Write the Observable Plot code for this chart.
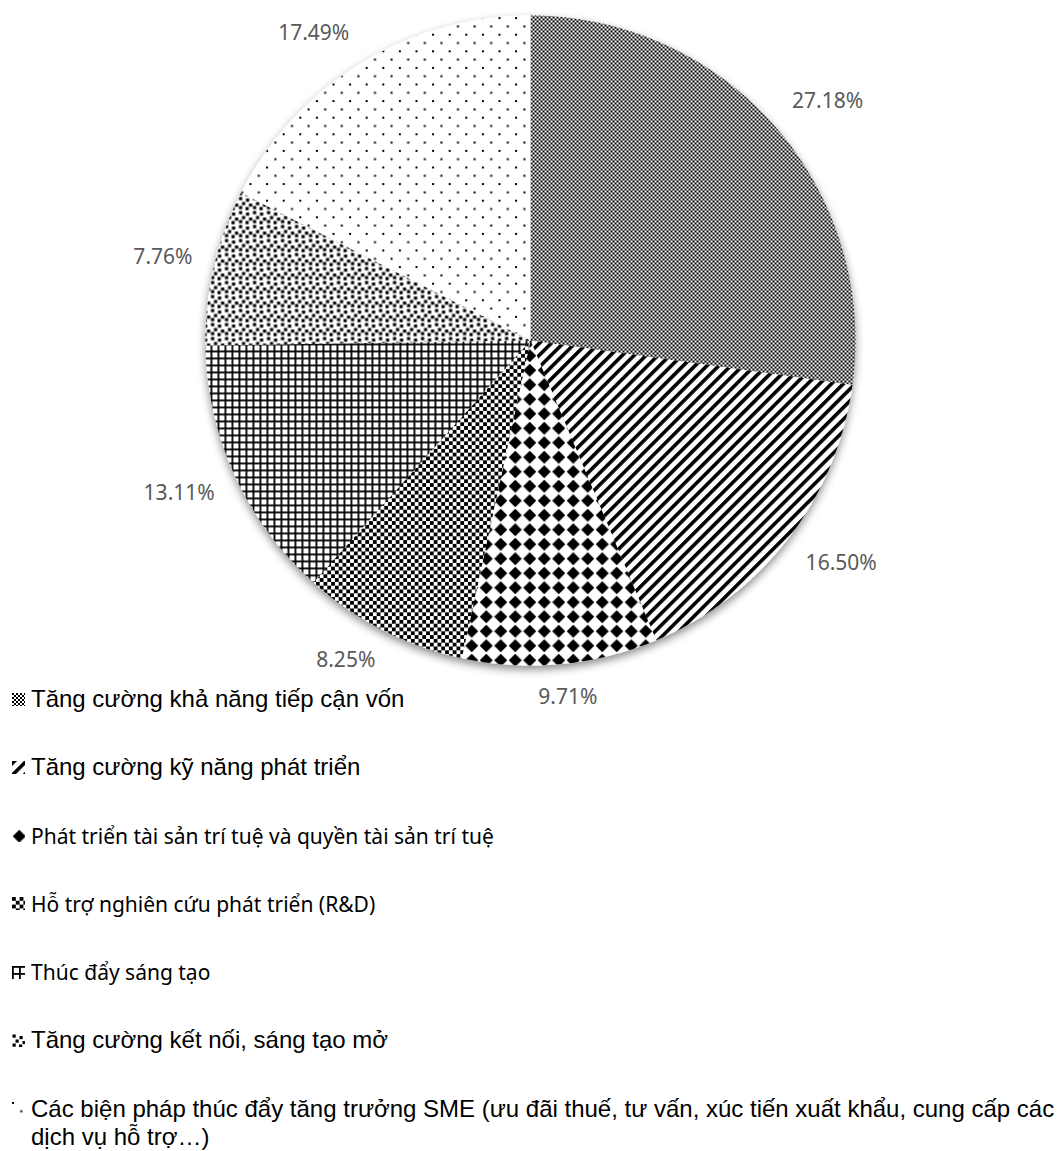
<!DOCTYPE html>
<html><head><meta charset="utf-8">
<script src="https://cdn.jsdelivr.net/npm/d3@7"></script>
<script src="https://cdn.jsdelivr.net/npm/@observablehq/plot@0.6"></script>
<style>
html,body{margin:0;padding:0;background:#fff;width:1057px;height:1151px;overflow:hidden;}
#wrap{position:relative;width:1057px;height:1151px;}
#chart svg{display:block;overflow:visible;}
#legend{position:absolute;left:12px;top:685px;}
.row{height:68.3px;display:flex;align-items:flex-start;}
.row svg{flex:none;margin-top:7.5px;margin-right:6px;}
.txt{line-height:28px;color:#000;white-space:pre;}
.arial{font-family:"Liberation Sans",Arial,sans-serif;font-size:24px;}
.calibri{font-family:"Noto Sans",sans-serif;font-size:21px;}
</style></head>
<body>
<svg width="0" height="0" style="position:absolute">
<defs>
  <pattern id="p-fine" width="4" height="4" patternUnits="userSpaceOnUse">
    <rect width="4" height="4" fill="#fff"/><rect width="2" height="2" fill="#000"/><rect x="2" y="2" width="2" height="2" fill="#000"/>
  </pattern>
  <pattern id="p-stripe" width="8.4" height="8.4" patternUnits="userSpaceOnUse" patternTransform="rotate(45)">
    <rect width="8.4" height="8.4" fill="#fff"/><rect width="3.6" height="8.4" fill="#000"/>
  </pattern>
  <pattern id="p-diamond" width="14.5" height="14.5" patternUnits="userSpaceOnUse">
    <rect width="14.5" height="14.5" fill="#fff"/><polygon points="7.25,0.7 13.8,7.25 7.25,13.8 0.7,7.25" fill="#000"/>
  </pattern>
  <pattern id="p-check" width="7.6" height="7.6" patternUnits="userSpaceOnUse">
    <rect width="7.6" height="7.6" fill="#fff"/><rect width="3.8" height="3.8" fill="#000"/><rect x="3.8" y="3.8" width="3.8" height="3.8" fill="#000"/>
  </pattern>
  <pattern id="p-grid" width="7" height="7" patternUnits="userSpaceOnUse">
    <rect width="7" height="7" fill="#fff"/><rect width="7" height="1.8" fill="#000"/><rect width="1.8" height="7" fill="#000"/>
  </pattern>
  <pattern id="p-confetti" width="14" height="14" patternUnits="userSpaceOnUse">
    <rect width="14" height="14" fill="#fff"/>
    <rect x="0.5" y="0.5" width="3.2" height="3.2" fill="#000"/>
    <rect x="7.5" y="2" width="3.2" height="3.2" fill="#000"/>
    <rect x="3.5" y="5.5" width="3.2" height="3.2" fill="#000"/>
    <rect x="10.5" y="7" width="3.2" height="3.2" fill="#000"/>
    <rect x="0.5" y="9.5" width="3.2" height="3.2" fill="#000"/>
    <rect x="7" y="10.5" width="3.2" height="3.2" fill="#000"/>
  </pattern>
  <pattern id="p-dots" width="16.6" height="16.6" patternUnits="userSpaceOnUse">
    <rect width="16.6" height="16.6" fill="#fff"/>
    <rect x="0" y="0" width="2" height="2" fill="#000"/>
    <rect x="8.3" y="8.3" width="2" height="2" fill="#000"/>
  </pattern>
  <filter id="pie-shadow" x="-10%" y="-10%" width="120%" height="125%">
    <feDropShadow dx="0" dy="4" stdDeviation="4" flood-color="#000" flood-opacity="0.45"/>
  </filter>
</defs>
</svg>
<div id="wrap"><div id="chart"></div><div id="legend"></div></div>
<script>
// ---- data ----
const categories = [
  "Tăng cường khả năng tiếp cận vốn",
  "Tăng cường kỹ năng phát triển",
  "Phát triển tài sản trí tuệ và quyền tài sản trí tuệ",
  "Hỗ trợ nghiên cứu phát triển (R&D)",
  "Thúc đẩy sáng tạo",
  "Tăng cường kết nối, sáng tạo mở",
  "Các biện pháp thúc đẩy tăng trưởng SME (ưu đãi thuế, tư vấn, xúc tiến xuất khẩu, cung cấp các dịch vụ hỗ trợ…)"
];
const values = [27.18, 16.50, 9.71, 8.25, 13.11, 7.76, 17.49];
const valueLabels = ["27.18%", "16.50%", "9.71%", "8.25%", "13.11%", "7.76%", "17.49%"];
const legendLabels = [
  "Tăng cường khả năng tiếp cận vốn",
  "Tăng cường kỹ năng phát triển",
  "Phát triển tài sản trí tuệ và quyền tài sản trí tuệ",
  "Hỗ trợ nghiên cứu phát triển (R&D)",
  "Thúc đẩy sáng tạo",
  "Tăng cường kết nối, sáng tạo mở",
  "Các biện pháp thúc đẩy tăng trưởng SME (ưu đãi thuế, tư vấn, xúc tiến xuất khẩu, cung cấp các\ndịch vụ hỗ trợ…)"
];
const legendFonts = ["arial", "arial", "calibri", "calibri", "calibri", "arial", "arial"];
const patternIds = ["p-fine", "p-stripe", "p-diamond", "p-check", "p-grid", "p-confetti", "p-dots"];

// ---- layout ----
const W = 1057, H = 720, R = 325, CX = 530, CY = 340;
const total = d3.sum(values);

const wedgePts = [];
const labelData = [];
const ctx = document.createElement("canvas").getContext("2d");
ctx.font = '21px "Noto Sans"';
let acc = 0;
categories.forEach((c, i) => {
  const a0 = acc / total * 2 * Math.PI;
  const a1 = (acc + values[i]) / total * 2 * Math.PI;
  acc += values[i];
  wedgePts.push({cat: c, x: 0, y: 0});
  const n = Math.max(2, Math.ceil((a1 - a0) / (Math.PI / 360)));
  for (let k = 0; k <= n; k++) {
    const a = a0 + (a1 - a0) * k / n;
    wedgePts.push({cat: c, x: Math.sin(a), y: Math.cos(a)});
  }
  wedgePts.push({cat: c, x: 0, y: 0});
  const am = (a0 + a1) / 2;
  const ux = Math.sin(am), uy = -Math.cos(am);
  const g = 22;
  const w = ctx.measureText(valueLabels[i]).width, h = 22;
  const clamp = v => Math.max(-1, Math.min(1, v));
  const px = (R + g) * ux + clamp(2 * ux) * w / 2;
  const py = (R + g) * uy + clamp(2 * uy) * h / 2;
  labelData.push({x: px / R, y: -py / R, text: valueLabels[i]});
});

const chart = Plot.plot({
  width: W, height: H,
  marginTop: 0, marginRight: 0, marginBottom: 0, marginLeft: 0,
  x: {domain: [-CX / R, (W - CX) / R], range: [0, W], axis: null},
  y: {domain: [-(H - CY) / R, CY / R], range: [H, 0], axis: null},
  color: {type: "ordinal", domain: categories, range: patternIds.map(id => `url(#${id})`)},
  marks: [
    Plot.line(wedgePts, {x: "x", y: "y", z: "cat", fill: "cat", stroke: "none", curve: "linear"}),
    Plot.text(labelData, {x: "x", y: "y", text: "text", fill: "#595959", fontSize: 21,
      fontFamily: "Noto Sans", textAnchor: "middle", lineAnchor: "middle"})
  ]
});
d3.select(chart).selectAll("g[aria-label='line']").attr("filter", "url(#pie-shadow)");
document.getElementById("chart").appendChild(chart);

// ---- legend ----
const legend = d3.select("#legend");
categories.forEach((c, i) => {
  const row = legend.append("div").attr("class", "row");
  const sw = row.append("svg").attr("width", 13).attr("height", 13);
  sw.append("rect").attr("width", 13).attr("height", 13).attr("fill", `url(#${patternIds[i]})`);
  row.append("div").attr("class", "txt " + legendFonts[i]).text(legendLabels[i]);
});
</script>
</body></html>
